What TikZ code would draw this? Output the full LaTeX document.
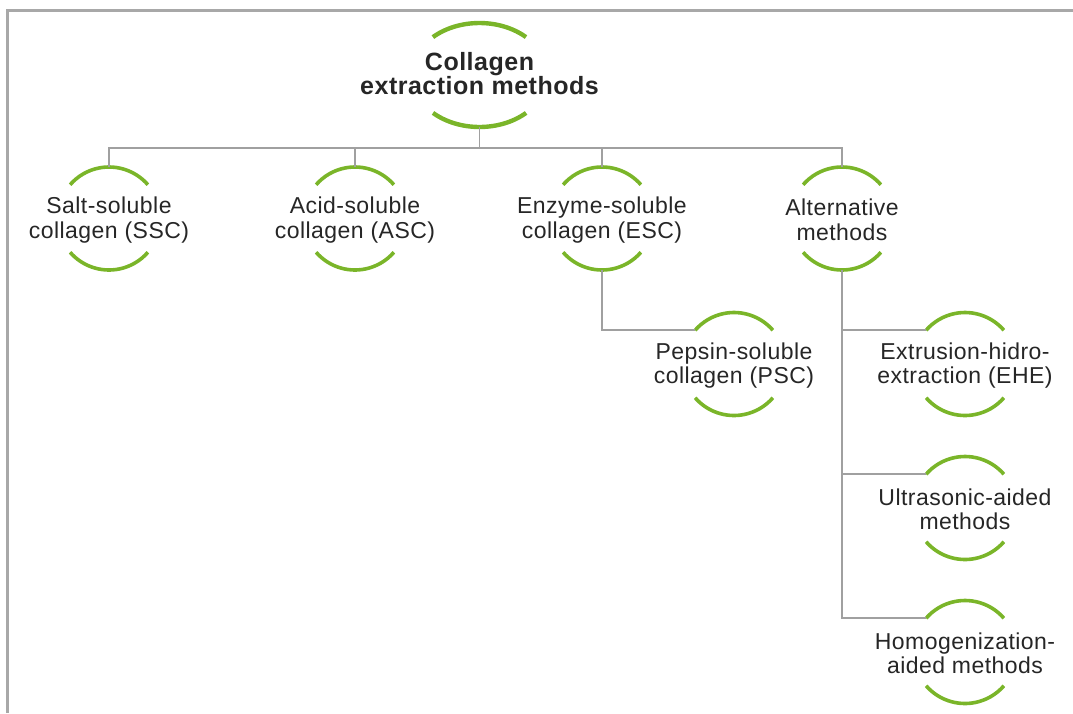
\documentclass[tikz,border=0pt]{standalone}
\usepackage{fontspec}
\setmainfont{Liberation Sans}[LetterSpace=2]
\usetikzlibrary{shapes.geometric}
\definecolor{gr}{RGB}{122,181,41}
\definecolor{txt}{RGB}{38,38,38}
\definecolor{ln}{RGB}{160,160,160}
\definecolor{fr}{RGB}{168,168,168}
\begin{document}
\begin{tikzpicture}[x=1pt,y=-1pt,
 circ/.style={circle, minimum size=103pt, inner sep=0pt, outer sep=0pt, draw=none},
 rootshape/.style={ellipse, minimum width=136pt, minimum height=104pt, inner sep=0pt, outer sep=0pt, draw=none},
 lab/.style={font=\fontsize{23}{24.5}\selectfont, text=txt, align=center, inner sep=0pt, yshift=-1.5pt},
 rootlab/.style={font=\bfseries\fontsize{25}{24}\selectfont, text=txt, align=center, inner sep=0pt, yshift=1pt},
 arcg/.style={draw=gr, line width=3.6pt},
 arcroot/.style={draw=gr, line width=4.4pt},
 conn/.style={draw=ln, line width=1.8pt},
 framel/.style={draw=fr, line width=2.6pt}]
\useasboundingbox (0,0) rectangle (1073,713);
\draw[framel] (7.5,713) -- (7.5,10.5) -- (1073,10.5);

% nodes
\node[rootshape, label={[rootlab]center:{Collagen\\extraction methods}}] (root) at (479.5,75) {};
\node[circ, label={[lab]center:{Salt-soluble\\collagen (SSC)}}] (ssc) at (109,218.5) {};
\node[circ, label={[lab]center:{Acid-soluble\\collagen (ASC)}}] (asc) at (355,218.5) {};
\node[circ, label={[lab]center:{Enzyme-soluble\\collagen (ESC)}}] (esc) at (602,218.5) {};
\node[circ, label={[lab]center:{Alternative\\methods}}] (alt) at (842,218.5) {};
\node[circ, label={[lab]center:{Pepsin-soluble\\collagen (PSC)}}] (psc) at (734,364) {};
\node[circ, label={[lab]center:{Extrusion-hidro-\\extraction (EHE)}}] (ehe) at (965,364) {};
\node[circ, label={[lab]center:{Ultrasonic-aided\\methods}}] (uam) at (965,508) {};
\node[circ, label={[lab]center:{Homogenization-\\aided methods}}] (ham) at (965,652) {};
\coordinate (bar) at (0,148);

% green arcs
\draw[arcroot] ([shift={(46.5pt,37.9pt)}]root.center) arc[start angle=46.8, end angle=133.2, x radius=68pt, y radius=52pt];
\draw[arcroot] ([shift={(-46.5pt,-37.9pt)}]root.center) arc[start angle=226.8, end angle=313.2, x radius=68pt, y radius=52pt];
\foreach \n in {ssc,asc,esc,alt,psc,ehe,uam,ham}{
  \draw[arcg] (\n.41) arc[start angle=41, end angle=139, radius=51.5pt];
  \draw[arcg] (\n.221) arc[start angle=221, end angle=319, radius=51.5pt];
}

% connectors
\draw[conn] (root.south) -- (root.south |- bar);
\draw[conn] (ssc.north) -- (ssc.north |- bar) -- (alt.north |- bar) -- (alt.north);
\draw[conn] (asc.north) -- (asc.north |- bar);
\draw[conn] (esc.north) -- (esc.north |- bar);
\draw[conn] (esc.south) |- (psc.139);
\draw[conn] (alt.south) |- (ham.139);
\draw[conn] (alt.south) |- (ehe.139);
\draw[conn] (alt.south) |- (uam.139);
\end{tikzpicture}
\end{document}
